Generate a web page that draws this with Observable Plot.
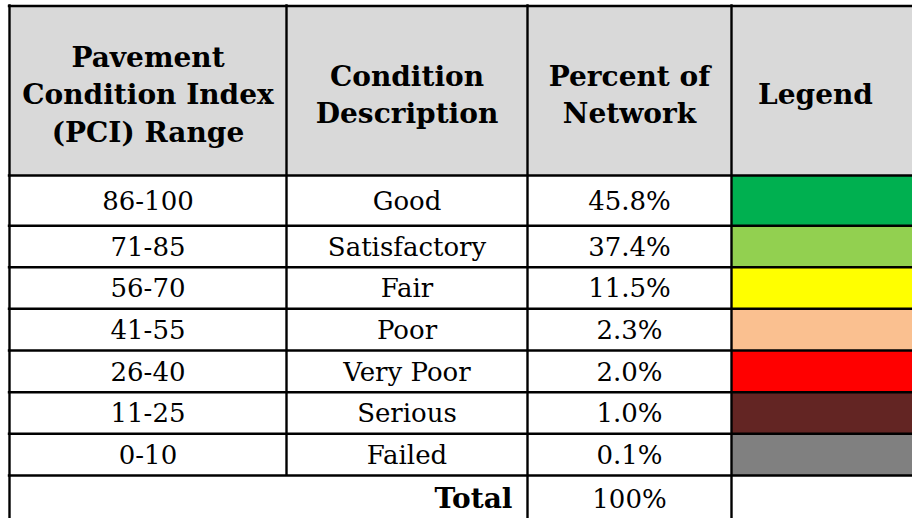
<!DOCTYPE html>
<html>
<head>
<meta charset="utf-8">
<script src="https://cdn.jsdelivr.net/npm/d3@7"></script>
<script src="https://cdn.jsdelivr.net/npm/@observablehq/plot@0.6"></script>
<style>
  html, body { margin: 0; padding: 0; background: #fff; }
  #chart svg { display: block; }
</style>
</head>
<body>
<div id="chart"></div>
<script>
// ---- data ----
const headers = ["Pavement\nCondition Index\n(PCI) Range", "Condition\nDescription", "Percent of\nNetwork", "Legend"];
const pciRanges = ["86-100", "71-85", "56-70", "41-55", "26-40", "11-25", "0-10"];
const conditions = ["Good", "Satisfactory", "Fair", "Poor", "Very Poor", "Serious", "Failed"];
const percents = [45.8, 37.4, 11.5, 2.3, 2.0, 1.0, 0.1];
const legendColors = ["#00b050", "#92d050", "#ffff00", "#fac090", "#ff0000", "#632523", "#808080"];
const totalLabel = "Total";
const totalValue = "100%";

// ---- layout (table grid in pixel units) ----
const W = 912, H = 518;
const colEdges = [9, 286, 527, 731, 918];
const rowEdges = [5.5, 175, 225.3, 266.7, 308.3, 350, 391.7, 433.3, 475, 519];
const colMid = i => (colEdges[i] + colEdges[i + 1]) / 2;
const rowMid = i => (rowEdges[i] + rowEdges[i + 1]) / 2;
const FONT = "DejaVu Serif";

const headerCells = headers.map((h, i) => ({text: h, x: i === 3 ? 815 : colMid(i), y: 92}));
const body = pciRanges.map((r, i) => ({
  i, range: r, cond: conditions[i], pct: percents[i].toFixed(1) + "%", color: legendColors[i]
}));
const bodyCells = body.flatMap(d => [
  {text: d.range, x: colMid(0), y: rowMid(d.i + 1) + 1},
  {text: d.cond, x: colMid(1), y: rowMid(d.i + 1) + 1},
  {text: d.pct, x: colMid(2), y: rowMid(d.i + 1) + 1}
]);
const nBody = pciRanges.length;
const totalRow = nBody + 1;

const hLines = rowEdges.map((y, k) => ({y, x1: colEdges[0] - 1.2, x2: colEdges[4]}));
const vLines = colEdges.map((x, k) => ({
  x, y1: rowEdges[0] - 1.2,
  y2: k === 1 ? rowEdges[totalRow] : rowEdges[rowEdges.length - 1]
}));

const chart = Plot.plot({
  width: W, height: H, margin: 0,
  x: {type: "linear", domain: [0, W], range: [0, W], axis: null},
  y: {type: "linear", domain: [0, H], range: [0, H], axis: null},
  style: {background: "#fff"},
  marks: [
    // header background
    Plot.rect([0], {x1: colEdges[0], x2: colEdges[4], y1: rowEdges[0], y2: rowEdges[1], fill: "#d9d9d9"}),
    // legend swatches
    Plot.rect(body, {x1: colEdges[3], x2: colEdges[4], y1: d => rowEdges[d.i + 1], y2: d => rowEdges[d.i + 2], fill: "color"}),
    // header text
    Plot.text(headerCells, {x: "x", y: "y", text: "text", fontFamily: FONT, fontWeight: "bold", fontSize: 28,
      lineHeight: 1.33, lineAnchor: "middle", fill: "#000"}),
    // body text
    Plot.text(bodyCells, {x: "x", y: "y", text: "text", fontFamily: FONT, fontSize: 26, lineAnchor: "middle", fill: "#000"}),
    // total row
    Plot.text([totalLabel], {x: colEdges[2] - 15, y: rowMid(totalRow) + 2, text: d => d, textAnchor: "end",
      fontFamily: FONT, fontWeight: "bold", fontSize: 28, lineAnchor: "middle", fill: "#000"}),
    Plot.text([totalValue], {x: colMid(2), y: rowMid(totalRow) + 2, text: d => d,
      fontFamily: FONT, fontSize: 26, lineAnchor: "middle", fill: "#000"}),
    // grid lines
    Plot.ruleY(hLines, {y: "y", x1: "x1", x2: "x2", stroke: "#000", strokeWidth: 2.4}),
    Plot.ruleX(vLines, {x: "x", y1: "y1", y2: "y2", stroke: "#000", strokeWidth: 2.4})
  ]
});
document.getElementById("chart").appendChild(chart);
</script>
</body>
</html>
